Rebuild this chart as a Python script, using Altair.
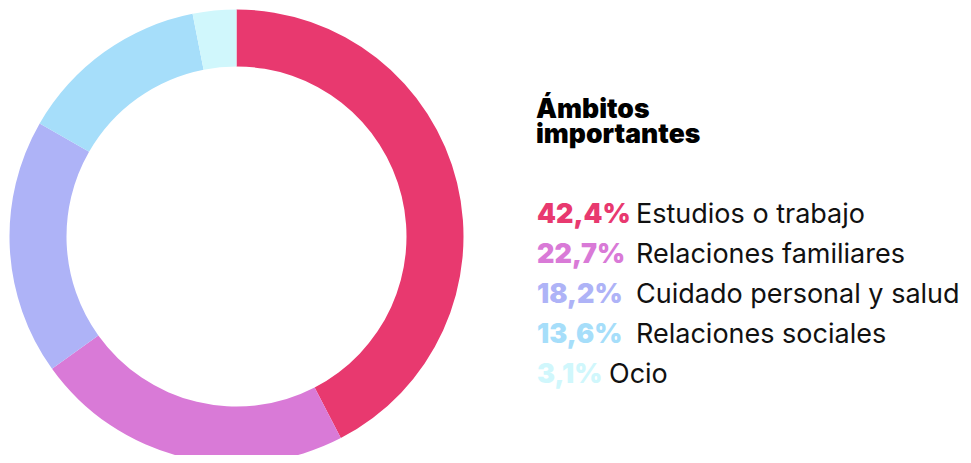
import altair as alt
import pandas as pd

categories = ["Estudios o trabajo", "Relaciones familiares", "Cuidado personal y salud",
              "Relaciones sociales", "Ocio"]
values = [42.4, 22.7, 18.2, 13.6, 3.1]
pct_labels = ["42,4%", "22,7%", "18,2%", "13,6%", "3,1%"]
colors = ["#E8396F", "#D97AD7", "#AEB3F7", "#A6DEFA", "#D0F7FC"]
title_lines = ["Ámbitos", "importantes"]

df = pd.DataFrame({
    "cat": categories,
    "val": values,
    "pct": pct_labels,
    "order": list(range(len(categories))),
})

title_df = pd.DataFrame({"t": title_lines, "i": list(range(len(title_lines)))})

color_scale = alt.Scale(domain=categories, range=colors)
FONT = "Inter"

donut = alt.Chart(df).mark_arc(innerRadius=170, outerRadius=227, x=228.5, y=228.5).encode(
    theta=alt.Theta("val:Q", stack=True),
    color=alt.Color("cat:N", scale=color_scale, legend=None),
    order=alt.Order("order:Q"),
)

row_y = alt.Y("order:Q", scale=alt.Scale(domain=[0, 4], range=[215, 375]), axis=None)

pct_text = alt.Chart(df).mark_text(
    align="left", baseline="alphabetic", font=FONT, fontSize=27, fontWeight=900, x=529
).encode(
    y=row_y,
    text="pct:N",
    color=alt.Color("cat:N", scale=color_scale, legend=None),
)

label_text = alt.Chart(df).transform_calculate(
    lx="529 + 27 * length(datum.pct) - 36"
).mark_text(
    align="left", baseline="alphabetic", font=FONT, fontSize=27, fontWeight=400, color="#111111"
).encode(
    x=alt.X("lx:Q", scale=None),
    y=row_y,
    text="cat:N",
)

legend_block = alt.layer(pct_text, label_text)

title = alt.Chart(title_df).mark_text(
    align="left", baseline="alphabetic", font=FONT, fontSize=26.5, fontWeight=900,
    color="#000000", x=528
).encode(
    y=alt.Y("i:Q", scale=alt.Scale(domain=[0, 1], range=[110, 135]), axis=None),
    text="t:N",
)

chart = alt.layer(donut, legend_block, title).resolve_scale(y="independent").properties(
    width=955, height=447,
    autosize=alt.AutoSizeParams(type="none"),
    padding=0,
).configure_view(stroke=None)

chart.save("out.html", embed_options={"renderer": "svg", "actions": False})
